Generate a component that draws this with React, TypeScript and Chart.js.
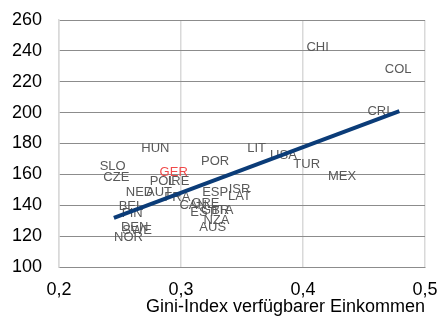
import React, { useEffect, useRef } from 'react';
import { Chart, registerables } from 'chart.js';

Chart.register(...registerables);

const countries = ['CHI','COL','CRI','LIT','USA','TUR','MEX','HUN','POR','SLO','CZE','GER','POL','IRE','NED','AUT','FRA','BEL','FIN','DEN','SWE','NOR','CAN','GRE','EST','GBR','ITA','NZA','AUS','ESP','ISR','LAT'];
const giniIndex = [0.412,0.478,0.462,0.362,0.384,0.403,0.432,0.279,0.328,0.244,0.247,0.294,0.285,0.298,0.266,0.282,0.297,0.259,0.260,0.262,0.264,0.257,0.310,0.320,0.318,0.328,0.335,0.329,0.326,0.328,0.348,0.348];
const values = [242,228,200.5,177,172,166.5,158.5,177,168.5,165,158,161.5,155.5,155.5,148,148,145,139.5,134.5,125.5,124,119,140,141,135.5,136.5,136.5,130,125.5,148.5,150,145.5];
const highlighted = ['GER'];
const trendX = [0.245, 0.479];
const trendY = [131.8, 201];
const xTitle = 'Gini-Index verfügbarer Einkommen';

const FONT = '"Liberation Sans", Arial, sans-serif';

export default function App() {
  const ref = useRef<HTMLCanvasElement>(null);
  useEffect(() => {
    const labelPlugin = {
      id: 'countryLabels',
      beforeDatasetsDraw(chart: any) {
        const meta = chart.getDatasetMeta(0);
        const ctx = chart.ctx;
        ctx.save();
        ctx.font = '13px ' + FONT;
        ctx.textAlign = 'center';
        ctx.textBaseline = 'middle';
        meta.data.forEach((el: any, i: number) => {
          ctx.fillStyle = highlighted.includes(countries[i]) ? '#f04a4a' : '#595959';
          ctx.fillText(countries[i], el.x, el.y);
        });
        ctx.restore();
      },
    };
    const chart = new Chart(ref.current as HTMLCanvasElement, {
      type: 'scatter',
      data: {
        datasets: [
          {
            data: countries.map((c, i) => ({ x: giniIndex[i], y: values[i] })),
            pointRadius: 0,
            pointHoverRadius: 0,
          },
          {
            type: 'line',
            data: trendX.map((x, i) => ({ x, y: trendY[i] })),
            borderColor: '#0b3c78',
            borderWidth: 4,
            pointRadius: 0,
            fill: false,
            showLine: true,
          } as any,
        ],
      },
      options: {
        animation: false,
        responsive: false,
        layout: { padding: { top: 20, right: 15, left: 0, bottom: 0 } },
        plugins: { legend: { display: false }, tooltip: { enabled: false } },
        scales: {
          x: {
            type: 'linear',
            min: 0.2,
            max: 0.5,
            ticks: {
              stepSize: 0.1,
              callback: (v: any) => Number(v).toFixed(1).replace('.', ','),
              font: { size: 18, family: FONT },
              color: '#000',
              padding: 12,
              maxRotation: 0,
            },
            grid: { color: '#d9d9d9', lineWidth: 1.5, drawTicks: false },
            border: { color: '#8c8c8c' },
            title: {
              display: true,
              text: xTitle,
              align: 'end',
              font: { size: 18, family: FONT },
              color: '#000',
              padding: 0,
            },
            afterFit: (s: any) => { s.height = 51; s.paddingLeft = 0; s.paddingRight = 0; },
          },
          y: {
            type: 'linear',
            min: 100,
            max: 260,
            ticks: {
              stepSize: 20,
              font: { size: 18, family: FONT },
              color: '#000',
              padding: 17,
            },
            grid: { color: '#8c8c8c', lineWidth: 1, drawTicks: false },
            border: { color: '#d9d9d9', width: 1.5 },
            afterFit: (s: any) => { s.width = 59; s.paddingTop = 0; s.paddingBottom = 0; },
          },
        },
      },
      plugins: [labelPlugin],
    });
    return () => chart.destroy();
  }, []);
  return (
    <div style={{ position: 'fixed', left: 0, top: 0, width: 440, height: 318, background: '#fff' }}>
      <canvas ref={ref} width={440} height={318} style={{ width: 440, height: 318, display: 'block' }} />
    </div>
  );
}
